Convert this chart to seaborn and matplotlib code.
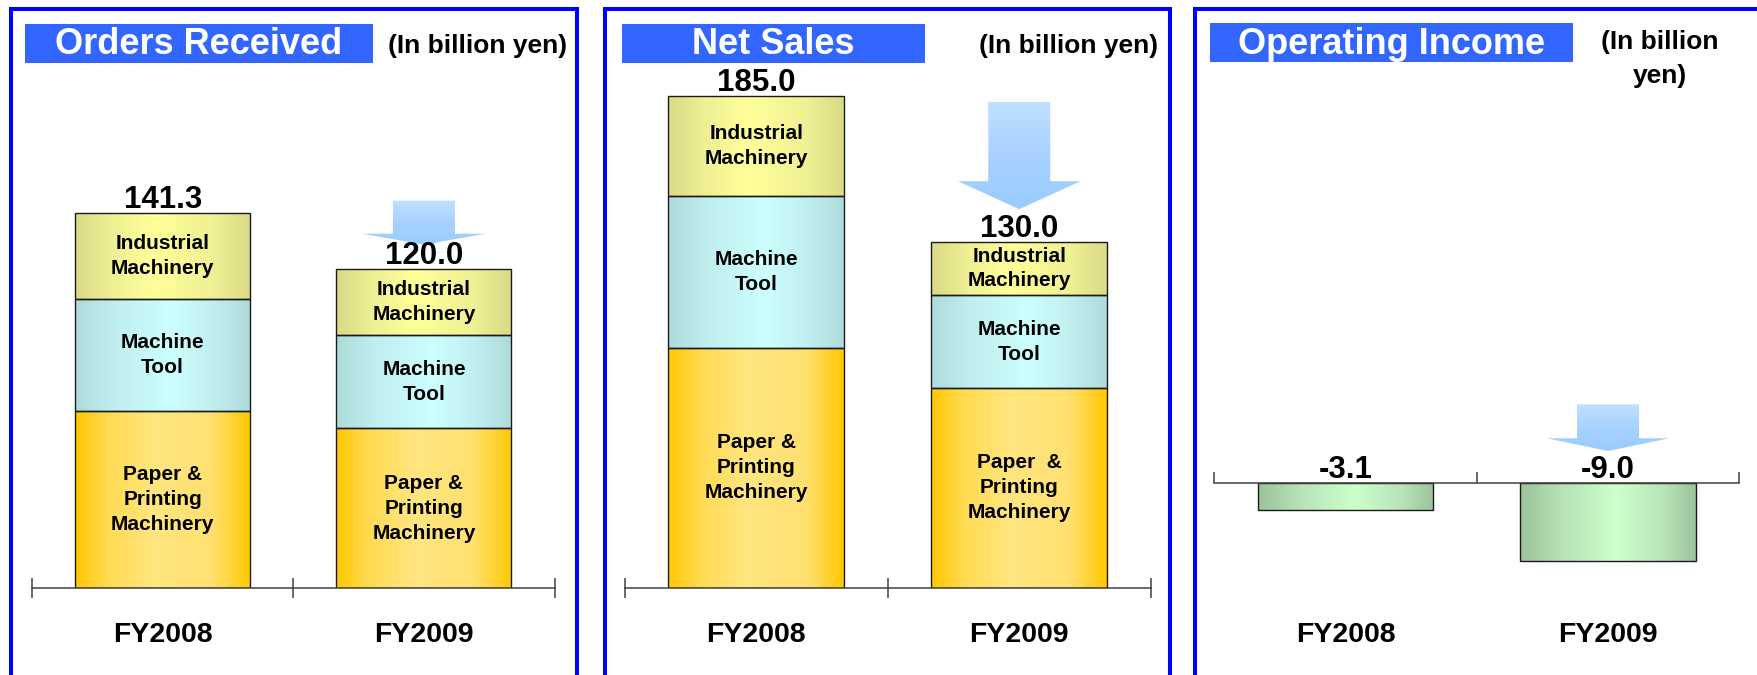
import matplotlib
matplotlib.use("Agg")
import matplotlib.pyplot as plt
import matplotlib.transforms as mtransforms
from matplotlib.colors import LinearSegmentedColormap
from matplotlib.patches import Rectangle, Polygon
import numpy as np
import seaborn as sns

# data (billion yen)
years = ["FY2008", "FY2009"]
seg_labels = [["Paper &\nPrinting\nMachinery", "Paper &\nPrinting\nMachinery"],
              ["Machine\nTool", "Machine\nTool"],
              ["Industrial\nMachinery", "Industrial\nMachinery"]]
sales_seg_labels = [["Paper &\nPrinting\nMachinery", "Paper  &\nPrinting\nMachinery"],
                    ["Machine\nTool", "Machine\nTool"],
                    ["Industrial\nMachinery", "Industrial\nMachinery"]]
orders_paper = [66.4, 60.0]
orders_tool = [42.3, 35.0]
orders_ind = [32.6, 25.0]
sales_paper = [90.2, 75.0]
sales_tool = [57.1, 35.0]
sales_ind = [37.7, 20.0]
op_income = [-3.1, -9.0]

W, H = 1758, 675
sns.set_theme(style="white")
plt.rcParams['font.family'] = ['Liberation Sans', 'DejaVu Sans']
plt.rcParams['text.color'] = 'black'

fig = plt.figure(figsize=(W / 100, H / 100), dpi=100)
fig.patch.set_facecolor('white')


def fx(x):
    return x / W


def fy(y):
    return 1 - y / H


def cmap(name, cols, pos):
    return LinearSegmentedColormap.from_list(name, list(zip(pos, cols)))


cm_paper = cmap('paper', ['#FFC800', '#FFDA50', '#FFE680', '#FFE070', '#FFC800'], [0, 0.18, 0.45, 0.78, 1])
cm_tool = cmap('tool', ['#AEDADA', '#C0EEEE', '#CCFFFF', '#C0EEEE', '#AEDADA'], [0, 0.22, 0.55, 0.8, 1])
cm_ind = cmap('ind', ['#DADA88', '#F0F094', '#FFFF99', '#F0F094', '#DADA88'], [0, 0.22, 0.45, 0.78, 1])
cm_green = cmap('green', ['#9CC29C', '#B8E4B8', '#CCFFCC', '#B8E4B8', '#9CC29C'], [0, 0.25, 0.55, 0.82, 1])
cm_arrow = cmap('arrow', ['#C0E0FF', '#A8D2FF', '#99CCFF'], [0, 0.5, 1])

hgrad = np.linspace(0, 1, 256).reshape(1, -1)
vgrad = np.linspace(0, 1, 256).reshape(-1, 1)


def shade(ax, patches, cm):
    for p in patches:
        bb = p.get_bbox()
        im = ax.imshow(hgrad, cmap=cm, extent=[bb.x0, bb.x1, bb.y0, bb.y1],
                       aspect='auto', interpolation='bicubic', zorder=1)
        im.set_clip_path(p)
        p.set_facecolor('none')
        p.set_zorder(2)


def bars(ax, vals, bottom, cm):
    n0 = len(ax.patches)
    sns.barplot(x=years, y=vals, bottom=bottom, width=0.67, errorbar=None, ax=ax,
                color='white', edgecolor='#1a1a1a', linewidth=1.0)
    shade(ax, ax.patches[n0:], cm)


def style_axis(ax, ylim, inout=True):
    ax.set_xlim(-0.5, 1.5)
    ax.set_ylim(*ylim)
    for s in ['left', 'right', 'top']:
        ax.spines[s].set_visible(False)
    ax.spines['bottom'].set_color('#404040')
    ax.spines['bottom'].set_linewidth(1.1)
    ax.set_xticks([-0.5, 0.5, 1.5])
    ax.set_xticklabels([])
    if inout:
        ax.tick_params(axis='x', direction='inout', length=15, width=1.1, color='#404040', bottom=True)
    else:
        ax.tick_params(axis='x', direction='in', length=7.7, width=1.1, color='#404040', bottom=True)
    ax.set_yticks([])
    ax.set_xlabel('')
    ax.set_ylabel('')
    ax.patch.set_alpha(0)
    trans = mtransforms.blended_transform_factory(ax.transData, fig.transFigure)
    for i, yr in enumerate(years):
        ax.text(i, fy(642), yr, transform=trans, ha='center', va='baseline',
                fontsize=20.5, fontweight='bold', color='black', clip_on=False)


def arrow(ax, xc, yref, top_px, base_px, tip_px, sh_px=31, hh_px=61.3):
    y0, y1 = ax.get_ylim()
    ppy = ax.bbox.height / (y1 - y0)
    ppx = ax.bbox.width / 2.0
    sh, hh = sh_px / ppx, hh_px / ppx
    yt, yb, yp = yref + top_px / ppy, yref + base_px / ppy, yref + tip_px / ppy
    xs = [xc - sh, xc + sh, xc + sh, xc + hh, xc, xc - hh, xc - sh]
    ys = [yt, yt, yb, yb, yp, yb, yb]
    poly = Polygon(np.column_stack([xs, ys]), closed=True, facecolor='none', edgecolor='none', zorder=2.5)
    ax.add_patch(poly)
    im = ax.imshow(vgrad, cmap=cm_arrow, extent=[xc - hh, xc + hh, yp, yt],
                   aspect='auto', interpolation='bicubic', zorder=2.5)
    im.set_clip_path(poly)


def stacked_panel(ax, parts, labels, ylim, arrow_px):
    bottom = np.zeros(2)
    for vals, cm, labs in zip(parts, [cm_paper, cm_tool, cm_ind], labels):
        bars(ax, vals, bottom, cm)
        for i in range(2):
            ax.text(i, bottom[i] + vals[i] / 2, labs[i], ha='center', va='center',
                    fontsize=15, fontweight='bold', linespacing=1.4, color='black', zorder=4)
        bottom = bottom + np.array(vals)
    style_axis(ax, ylim)
    for i, tot in enumerate(bottom):
        ax.annotate(f"{tot:.1f}", xy=(i, tot), xytext=(0, 3.6), textcoords='offset points',
                    ha='center', va='baseline', fontsize=22.5, fontweight='bold', color='black', zorder=4)
    arrow(ax, 1, bottom[1], *arrow_px)


def add_axes(x0, x1, ytop, ybot):
    return fig.add_axes([fx(x0), fy(ybot), fx(x1) - fx(x0), (ybot - ytop) / H])


# panel frames, titles
frames = [(11, 576.7), (605, 1170), (1194.7, 1800)]
for x0, x1 in frames:
    fig.add_artist(Rectangle((fx(x0), fy(720)), fx(x1) - fx(x0), fy(9.3) - fy(720),
                             transform=fig.transFigure, facecolor='none',
                             edgecolor='#0000FF', linewidth=2.9, clip_on=False))

titles = [("Orders Received", (25, 24, 373, 62.7)),
          ("Net Sales", (622, 24, 925, 62.7)),
          ("Operating Income", (1210, 23, 1573, 62))]
for txt, (x0, y0, x1, y1) in titles:
    fig.add_artist(Rectangle((fx(x0), fy(y1)), fx(x1) - fx(x0), fy(y0) - fy(y1),
                             transform=fig.transFigure, facecolor='#3366FF', edgecolor='none'))
    fig.text(fx((x0 + x1) / 2), fy(54), txt, ha='center', va='baseline', color='white',
             fontsize=26, fontweight='bold')

fig.text(fx(478), fy(53.3), "(In billion yen)", ha='center', va='baseline', fontsize=19,
         fontweight='bold', color='black')
fig.text(fx(1069), fy(53.3), "(In billion yen)", ha='center', va='baseline', fontsize=19,
         fontweight='bold', color='black')
fig.text(fx(1660), fy(83.3), "(In billion\nyen)", ha='center', va='baseline', fontsize=19,
         fontweight='bold', color='black', linespacing=1.55, multialignment='center')

# Orders Received
ax1 = add_axes(32, 554.6, 80, 587.7)
stacked_panel(ax1, [orders_paper, orders_tool, orders_ind], seg_labels,
              (0, 507.7 / 2.655), (68.4, 35.4, 24.4))

# Net Sales
ax2 = add_axes(624.6, 1150.8, 80, 587.7)
stacked_panel(ax2, [sales_paper, sales_tool, sales_ind], sales_seg_labels,
              (0, 507.7 / 2.66), (139.9, 60.7, 32.7))

# Operating Income
ax3 = add_axes(1214.3, 1739.3, 80, 600)
n0 = len(ax3.patches)
sns.barplot(x=years, y=op_income, width=0.67, errorbar=None, ax=ax3,
            color='white', edgecolor='#1a1a1a', linewidth=1.0)
shade(ax3, ax3.patches[n0:], cm_green)
style_axis(ax3, (-(600 - 483.3) / 8.68, (483.3 - 80) / 8.68), inout=False)
ax3.spines['bottom'].set_position(('data', 0))
for i, v in enumerate(op_income):
    ax3.annotate(f"{v:.1f}", xy=(i, 0), xytext=(0, 3.6), textcoords='offset points',
                 ha='center', va='baseline', fontsize=22.5, fontweight='bold', color='black', zorder=4)
arrow(ax3, 1, 0, 79, 45, 32.3)

fig.savefig("out.png", dpi=100)
